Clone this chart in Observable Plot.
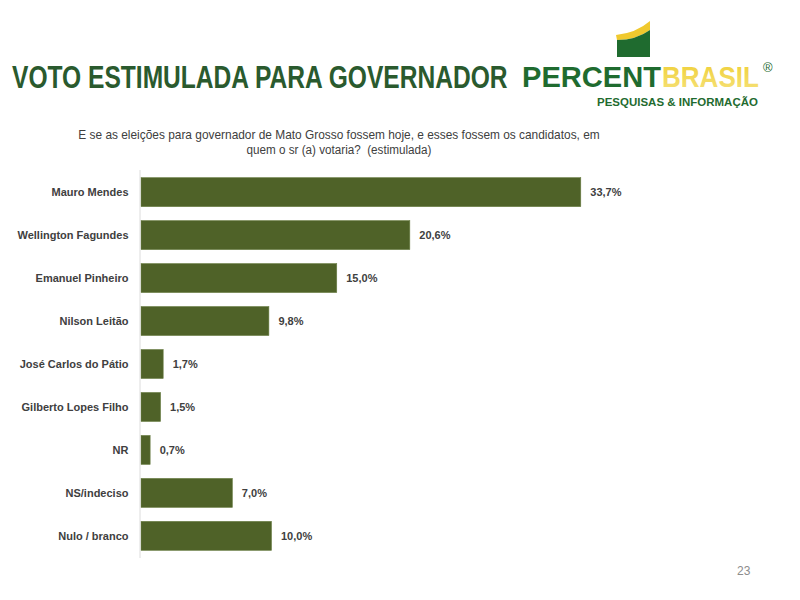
<!DOCTYPE html>
<html>
<head>
<meta charset="utf-8">
<script src="https://cdn.jsdelivr.net/npm/d3@7"></script>
<script src="https://cdn.jsdelivr.net/npm/@observablehq/plot@0.6"></script>
<style>
  html, body { margin: 0; padding: 0; background: #fff; }
  #page { position: relative; width: 800px; height: 600px; overflow: hidden; font-family: "Liberation Sans", Arial, sans-serif; }
  #header { position: absolute; left: 0; top: 0; }
  #header text { font-family: "Liberation Sans", Arial, sans-serif; white-space: pre; }
  #chart { position: absolute; left: 0; top: 165px; }
  #pagenum { position: absolute; left: 737px; top: 564px; font-size: 12px; color: #8c8c8c; }
</style>
</head>
<body>
<div id="page">
  <svg id="header" width="800" height="165" xmlns="http://www.w3.org/2000/svg">
    <defs>
      <linearGradient id="brasilGrad" x1="0" y1="0" x2="0" y2="1">
        <stop offset="0" stop-color="#efcf36"/>
        <stop offset="1" stop-color="#f6e27c"/>
      </linearGradient>
    </defs>
    <text class="fit" data-x="12" data-y="88" data-w="496" data-anchor="start"
      font-weight="bold" font-size="32" fill="#2a5a2e">VOTO ESTIMULADA PARA GOVERNADOR</text>
    <!-- logo flag -->
    <path d="M616,35 Q636,33 650,21 L650,30 Q636,40 617,40 Z" fill="#f0c92e"/>
    <path d="M617,40 Q636,40 650,30 L650,57 L617,57 Z" fill="#1f6b2f"/>
    <text class="fit" data-x="522" data-y="87" data-w="139" data-anchor="start"
      font-weight="bold" font-size="29" fill="#1f6b2f">PERCENT</text>
    <text class="fit" data-x="662" data-y="87" data-w="97" data-anchor="start"
      font-weight="bold" font-size="29" fill="url(#brasilGrad)">BRASIL</text>
    <text x="763" y="72" font-size="13" fill="#1f6b2f">®</text>
    <text class="fit" data-x="597" data-y="106" data-w="161" data-anchor="start"
      font-weight="bold" font-size="11" fill="#1f6b2f">PESQUISAS &amp; INFORMAÇÃO</text>
    <!-- subtitle -->
    <text class="fit" data-x="339" data-y="139" data-w="522" data-anchor="middle"
      font-size="12" fill="#404040">E se as eleições para governador de Mato Grosso fossem hoje, e esses fossem os candidatos, em</text>
    <text class="fit" data-x="339" data-y="154" data-w="185" data-anchor="middle"
      font-size="12" fill="#404040">quem o sr (a) votaria?  (estimulada)</text>
  </svg>
  <div id="chart"></div>
  <div id="pagenum">23</div>
</div>
<script>
const categories = [
  "Mauro Mendes",
  "Wellington Fagundes",
  "Emanuel Pinheiro",
  "Nilson Leitão",
  "José Carlos do Pátio",
  "Gilberto Lopes Filho",
  "NR",
  "NS/indeciso",
  "Nulo / branco"
];
const values = [33.7, 20.6, 15.0, 9.8, 1.7, 1.5, 0.7, 7.0, 10.0];

// fit header texts to their measured widths in the reference
document.querySelectorAll("#header text.fit").forEach(t => {
  const w = +t.dataset.w, x = +t.dataset.x, y = +t.dataset.y;
  const natural = t.getComputedTextLength();
  const s = natural > 0 ? w / natural : 1;
  t.setAttribute("text-anchor", t.dataset.anchor);
  t.setAttribute("transform", `translate(${x},${y}) scale(${s},1)`);
});

const data = categories.map((c, i) => ({category: c, value: values[i]}));
const fmt = v => d3.format(".1f")(v).replace(".", ",") + "%";

const chart = Plot.plot({
  width: 800,
  height: 400,
  marginLeft: 141,
  marginRight: 137,
  marginTop: 5,
  marginBottom: 7,
  style: {fontFamily: "Liberation Sans, Arial, sans-serif", background: "transparent"},
  x: {domain: [0, 40], axis: null},
  y: {domain: categories, paddingInner: 0.325, paddingOuter: 0.178, round: false, label: null},
  marks: [
    Plot.axisY({tickSize: 0, tickPadding: 13, fontWeight: "bold", fontSize: 11, fill: "#404040", label: null}),
    Plot.barX(data, {x: "value", y: "category", fill: "#4f6228", stroke: "#6b7f45", strokeWidth: 0.6}),
    Plot.ruleX([0], {stroke: "#dcdcdc", strokeWidth: 1, dx: -1.5}),
    Plot.text(data, {x: "value", y: "category", text: d => fmt(d.value), dx: 9, textAnchor: "start",
      fontWeight: "bold", fontSize: 11, fill: "#404040"})
  ]
});
document.getElementById("chart").appendChild(chart);
</script>
</body>
</html>
